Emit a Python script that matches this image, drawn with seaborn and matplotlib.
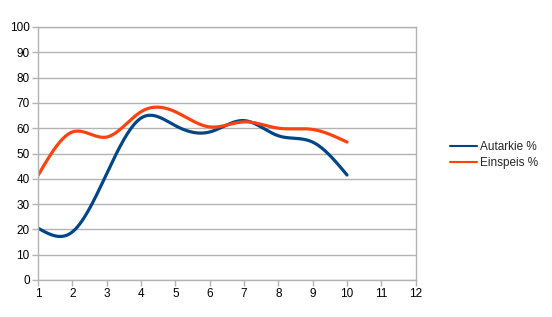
import numpy as np
import pandas as pd
import matplotlib
matplotlib.use("Agg")
import matplotlib.pyplot as plt
import seaborn as sns

x_values = [1, 2, 3, 4, 5, 6, 7, 8, 9, 10]
autarkie = [20.5, 19.0, 42.0, 64.0, 61.0, 58.5, 63.0, 57.0, 54.5, 41.5]
einspeis = [41.3, 58.5, 56.5, 66.5, 66.5, 60.5, 62.5, 60.0, 59.5, 54.5]
series_names = ["Autarkie %", "Einspeis %"]
colors = ["#004586", "#ff420e"]
x_ticks = list(range(1, 13))
y_ticks = list(range(0, 101, 10))


def natural_spline(x, y, n=400):
    x = np.asarray(x, float)
    y = np.asarray(y, float)
    k = len(x)
    h = np.diff(x)
    A = np.zeros((k, k))
    b = np.zeros(k)
    A[0, 0] = 1
    A[-1, -1] = 1
    for i in range(1, k - 1):
        A[i, i - 1] = h[i - 1]
        A[i, i] = 2 * (h[i - 1] + h[i])
        A[i, i + 1] = h[i]
        b[i] = 3 * ((y[i + 1] - y[i]) / h[i] - (y[i] - y[i - 1]) / h[i - 1])
    c = np.linalg.solve(A, b)
    bb = np.zeros(k - 1)
    d = np.zeros(k - 1)
    for i in range(k - 1):
        bb[i] = (y[i + 1] - y[i]) / h[i] - h[i] * (2 * c[i] + c[i + 1]) / 3
        d[i] = (c[i + 1] - c[i]) / (3 * h[i])
    xs = np.linspace(x[0], x[-1], n)
    idx = np.clip(np.searchsorted(x, xs, side="right") - 1, 0, k - 2)
    dx = xs - x[idx]
    ys = y[idx] + bb[idx] * dx + c[idx] * dx ** 2 + d[idx] * dx ** 3
    return xs, ys


frames = []
for name, vals in zip(series_names, [autarkie, einspeis]):
    xs, ys = natural_spline(x_values, vals)
    frames.append(pd.DataFrame({"x": xs, "y": ys, "series": name}))
df = pd.concat(frames, ignore_index=True)

sns.set_theme(style="white")
plt.rcParams["font.family"] = ["Liberation Sans", "DejaVu Sans"]

fig = plt.figure(figsize=(5.52, 3.17), dpi=100)
ax = fig.add_axes([38 / 552, 1 - 280 / 317, (415.7 - 38) / 552, (280 - 27) / 317])

sns.lineplot(data=df, x="x", y="y", hue="series", palette=colors,
             linewidth=2.3, ax=ax, sort=False, legend=True)

ax.set_xlim(1, 12)
ax.set_ylim(0, 100)
ax.set_xticks(x_ticks)
ax.set_yticks(y_ticks)
ax.set_xlabel("")
ax.set_ylabel("")
ax.yaxis.grid(True, color="#b3b3b3", linewidth=1)
ax.xaxis.grid(False)
ax.set_axisbelow(True)
for s in ["left", "bottom", "right", "top"]:
    ax.spines[s].set_visible(True)
    ax.spines[s].set_color("#b3b3b3")
    ax.spines[s].set_linewidth(1)
ax.tick_params(axis="both", which="both", direction="out", length=4,
               width=1, color="#b3b3b3", labelsize=8.5, labelcolor="#000000",
               pad=2, bottom=True, left=True)

handles, labels = ax.get_legend_handles_labels()
ax.legend(handles, labels, loc="center left", bbox_to_anchor=(445 / 552, 1 - 155 / 317),
          bbox_transform=fig.transFigure, frameon=False, fontsize=8.5,
          handlelength=2.3, handletextpad=0.3, labelspacing=0.35,
          borderaxespad=0)
for line in ax.get_legend().get_lines():
    line.set_linewidth(1.5)

fig.savefig("out.png", dpi=100)
